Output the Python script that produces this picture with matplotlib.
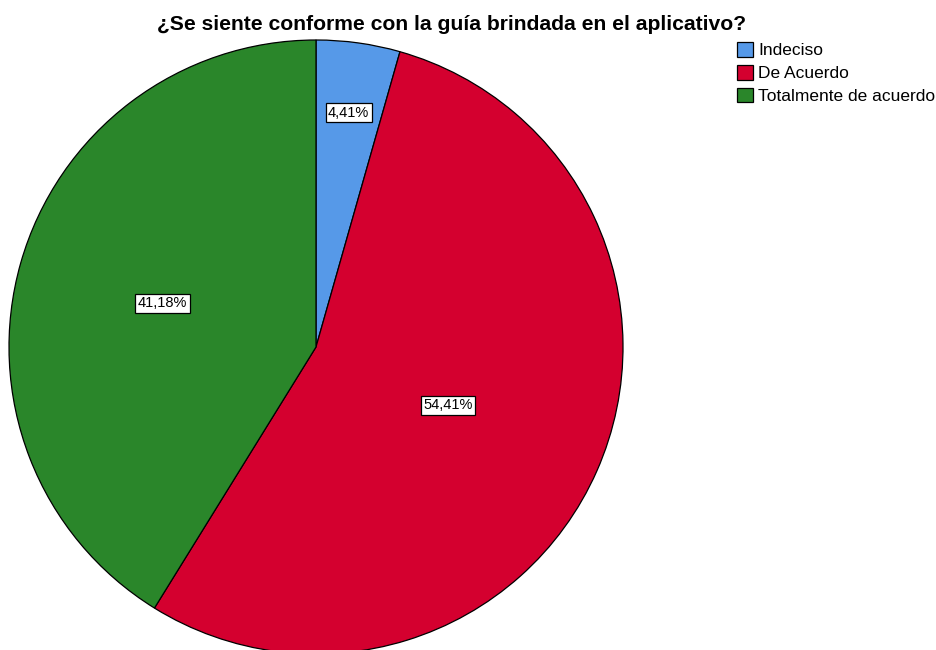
import matplotlib
matplotlib.use("Agg")
import matplotlib.pyplot as plt
import numpy as np
from matplotlib.patches import Patch

plt.rcParams['font.family'] = ['Liberation Sans', 'DejaVu Sans']

categories = ["Indeciso", "De Acuerdo", "Totalmente de acuerdo"]
values = [4.41, 54.41, 41.18]
labels = ["4,41%", "54,41%", "41,18%"]
colors = ["#5699E8", "#D4002F", "#2A862A"]
label_dist = [0.77, 0.47, 0.52]

fig = plt.figure(figsize=(9.36, 6.5), dpi=100)
ax = fig.add_axes([9/936, -4/650, 614/936, 614/650])
wedges, _ = ax.pie(values, colors=colors, startangle=90, counterclock=False,
                   wedgeprops=dict(edgecolor="black", linewidth=0.9))
ax.set_xlim(-1, 1)
ax.set_ylim(-1, 1)
ax.set_aspect("equal")

for w, lab, d in zip(wedges, labels, label_dist):
    ang = np.deg2rad((w.theta1 + w.theta2) / 2)
    ax.text(d * np.cos(ang), d * np.sin(ang), lab, ha="center", va="center",
            fontsize=10.5,
            bbox=dict(boxstyle="square,pad=0.17", facecolor="white",
                      edgecolor="black", linewidth=0.9))

fig.text(452/936, 1 - 24/650, "¿Se siente conforme con la guía brindada en el aplicativo?",
         ha="center", va="center", fontsize=15.2, fontweight="bold")

handles = [Patch(facecolor=c, edgecolor="black", linewidth=0.9) for c in colors]
fig.legend(handles, categories, loc="upper left", bbox_to_anchor=(737/936, 1 - 42/650),
           frameon=False, fontsize=12.5, handlelength=0.92, handleheight=0.92,
           handletextpad=0.3, labelspacing=0.38, borderpad=0, borderaxespad=0)

fig.savefig("out.png", dpi=100)
